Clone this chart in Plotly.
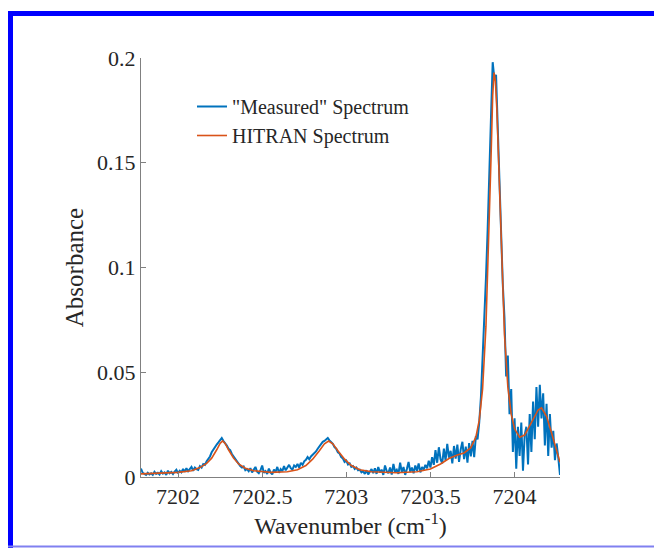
import plotly.graph_objects as go

# ---- data ----
wn_start = 7201.78
wn_step = 0.01
measured_abs = [
    0.004, 0.002, 0.0015, 0.001, 0.002, 0.0012, 0.0018, 0.001, 0.0025, 0.0015,
    0.002, 0.0012, 0.0028, 0.0016, 0.0022, 0.001, 0.003, 0.0018, 0.0024, 0.0014,
    0.0026, 0.0035, 0.0018, 0.003, 0.0022, 0.0038, 0.0025, 0.0042, 0.0028, 0.0036,
    0.0048, 0.003, 0.0045, 0.0038, 0.0034, 0.0052, 0.0045, 0.0062, 0.0058, 0.0075,
    0.0085, 0.0098, 0.0118, 0.013, 0.0148, 0.0155, 0.0165, 0.0178, 0.0186, 0.0172,
    0.0162, 0.015, 0.0135, 0.0128, 0.011, 0.0098, 0.0085, 0.0072, 0.0065, 0.0052,
    0.0045, 0.005, 0.0032, 0.0038, 0.0028, 0.0042, 0.0022, 0.0035, 0.0048, 0.0025,
    0.0018, 0.0032, 0.0055, 0.002, 0.0028, 0.0015, 0.004, 0.0022, 0.0012, 0.0035,
    0.0025, 0.0048, 0.002, 0.0038, 0.0028, 0.0052, 0.0032, 0.0045, 0.0058, 0.0042,
    0.0035, 0.0055, 0.0048, 0.0062, 0.0045, 0.0068, 0.0058, 0.0075, 0.0082, 0.0095,
    0.0085, 0.0098, 0.0105, 0.0115, 0.0122, 0.0135, 0.0148, 0.0158, 0.0168, 0.0172,
    0.0178, 0.0186, 0.0175, 0.0165, 0.0158, 0.0142, 0.0135, 0.0118, 0.0112, 0.0095,
    0.0088, 0.0072, 0.0078, 0.006, 0.0065, 0.0048, 0.0052, 0.0038, 0.0045, 0.0032,
    0.0035, 0.0022, 0.0028, 0.0015, 0.0032, 0.0012, 0.0025, 0.0038, 0.0018, 0.0042,
    0.0015, 0.0048, 0.0022, 0.0035, 0.001, 0.0055, 0.0028, 0.0018, 0.0045, 0.0012,
    0.0062, 0.0025, 0.0035, 0.0015, 0.0068, 0.0022, 0.0048, 0.001, 0.0038, 0.0072,
    0.0025, 0.0045, 0.0018, 0.0055, 0.003, 0.0065, 0.0022, 0.0048, 0.0035, 0.0058,
    0.0042, 0.0078, 0.0045, 0.0095, 0.0058, 0.0128, 0.0068, 0.0142, 0.0085, 0.0065,
    0.0135, 0.0078, 0.0158, 0.0092, 0.0125, 0.0065, 0.0148, 0.0088, 0.0155, 0.0072,
    0.0132, 0.0168, 0.0085, 0.0145, 0.0068, 0.0162, 0.0098, 0.0172, 0.0095, 0.0195,
    0.018, 0.026, 0.038, 0.055, 0.078, 0.095, 0.118, 0.15, 0.172, 0.198,
    0.19, 0.192, 0.165, 0.142, 0.118, 0.092, 0.076, 0.048, 0.058, 0.03,
    0.042, 0.012, 0.028, 0.004, 0.024, 0.01, 0.026, 0.003, 0.02, 0.024,
    0.006, 0.03, 0.012, 0.036, 0.018, 0.043, 0.024, 0.044, 0.028, 0.04,
    0.015, 0.035, 0.01, 0.03, 0.014, 0.022, 0.008, 0.016, 0.009, 0.001,
]
measured_wn = [round(wn_start + wn_step * i, 4) for i in range(len(measured_abs))]

hitran_wn = [
    7201.78, 7201.9, 7202.0, 7202.08, 7202.13, 7202.17, 7202.2, 7202.23, 7202.25,
    7202.265, 7202.28, 7202.3, 7202.33, 7202.36, 7202.4, 7202.45, 7202.55,
    7202.65, 7202.71, 7202.76, 7202.8, 7202.84, 7202.87, 7202.895, 7202.92,
    7202.95, 7202.99, 7203.03, 7203.08, 7203.15, 7203.3, 7203.42, 7203.5,
    7203.56, 7203.61, 7203.66, 7203.7, 7203.74, 7203.77, 7203.79, 7203.81,
    7203.83, 7203.845, 7203.86, 7203.87, 7203.878, 7203.886, 7203.895, 7203.91,
    7203.925, 7203.94, 7203.96, 7203.98, 7204.0, 7204.03, 7204.06, 7204.1,
    7204.14, 7204.16, 7204.19, 7204.22, 7204.25, 7204.27,
]
hitran_abs = [
    0.0015, 0.0018, 0.0022, 0.003, 0.0045, 0.0065, 0.009, 0.013, 0.016,
    0.0172, 0.016, 0.013, 0.009, 0.0062, 0.0042, 0.003, 0.0022,
    0.0025, 0.0035, 0.0055, 0.0085, 0.0125, 0.0158, 0.0172, 0.0158,
    0.0125, 0.0085, 0.0055, 0.0035, 0.0025, 0.002, 0.0025, 0.0038,
    0.0062, 0.0088, 0.0105, 0.0115, 0.014, 0.019, 0.027, 0.042,
    0.072, 0.108, 0.152, 0.182, 0.193, 0.189, 0.175, 0.14,
    0.1, 0.068, 0.043, 0.03, 0.023, 0.019, 0.02, 0.026,
    0.032, 0.033, 0.029, 0.021, 0.013, 0.007,
]

x_ticks = [7202, 7202.5, 7203, 7203.5, 7204]
x_ticklabels = ["7202", "7202.5", "7203", "7203.5", "7204"]
y_ticks = [0, 0.05, 0.1, 0.15, 0.2]
y_ticklabels = ["0", "0.05", "0.1", "0.15", "0.2"]

FONT = "Liberation Serif"
TXT = "#262626"

fig = go.Figure()
fig.add_trace(go.Scatter(x=measured_wn, y=measured_abs, mode="lines",
                         name='"Measured" Spectrum',
                         line=dict(color="#0072BD", width=2)))
fig.add_trace(go.Scatter(x=hitran_wn, y=hitran_abs, mode="lines",
                         name="HITRAN Spectrum",
                         line=dict(color="#D95319", width=1.6)))

# plot area in pixels: left 141, right 560, top 58, bottom 477
L, R, T, B = 141, 560, 58, 477
W, H = 654, 548
pw, ph = R - L, B - T

def px(x):
    return (x - L) / pw

def py(y):
    return (B - y) / ph

shapes = [
    # blue frame (left and top bars, thin bottom line)
    dict(type="rect", xref="paper", yref="paper", x0=px(8), x1=px(13), y0=py(W), y1=py(11),
         fillcolor="#0000FF", line=dict(width=0), layer="above"),
    dict(type="rect", xref="paper", yref="paper", x0=px(8), x1=px(W + 5), y0=py(16), y1=py(11),
         fillcolor="#0000FF", line=dict(width=0), layer="above"),
    dict(type="line", xref="paper", yref="paper", x0=px(8), x1=px(W + 5), y0=py(546.5), y1=py(546.5),
         line=dict(color="#8080F0", width=2), layer="above"),
]

fig.update_layout(
    width=W, height=H,
    margin=dict(l=L, r=W - R, t=T, b=H - B),
    paper_bgcolor="white", plot_bgcolor="white",
    font=dict(family=FONT, color=TXT, size=22),
    showlegend=True,
    legend=dict(x=px(192), y=py(87), xanchor="left", yanchor="top",
                font=dict(family=FONT, size=20, color=TXT),
                bgcolor="rgba(255,255,255,0)", borderwidth=0,
                tracegroupgap=0, itemwidth=30),
    shapes=shapes,
    xaxis=dict(range=[7201.78, 7204.27], tickvals=x_ticks, ticktext=x_ticklabels,
               showline=True, linecolor="#808080", linewidth=1,
               ticks="inside", ticklen=5, tickcolor="#808080",
               showgrid=False, zeroline=False, mirror=False,
               tickfont=dict(family=FONT, size=22, color=TXT),
               title=dict(text="Wavenumber (cm<sup>-1</sup>)", standoff=6,
                          font=dict(family=FONT, size=24, color=TXT))),
    yaxis=dict(range=[0, 0.2], tickvals=y_ticks, ticktext=y_ticklabels,
               showline=True, linecolor="#808080", linewidth=1,
               ticks="inside", ticklen=5, tickcolor="#808080",
               showgrid=False, zeroline=False, mirror=False,
               tickfont=dict(family=FONT, size=22, color=TXT),
               title=dict(text="Absorbance", standoff=6,
                          font=dict(family=FONT, size=25, color=TXT))),
)

fig.write_html("out.html")
